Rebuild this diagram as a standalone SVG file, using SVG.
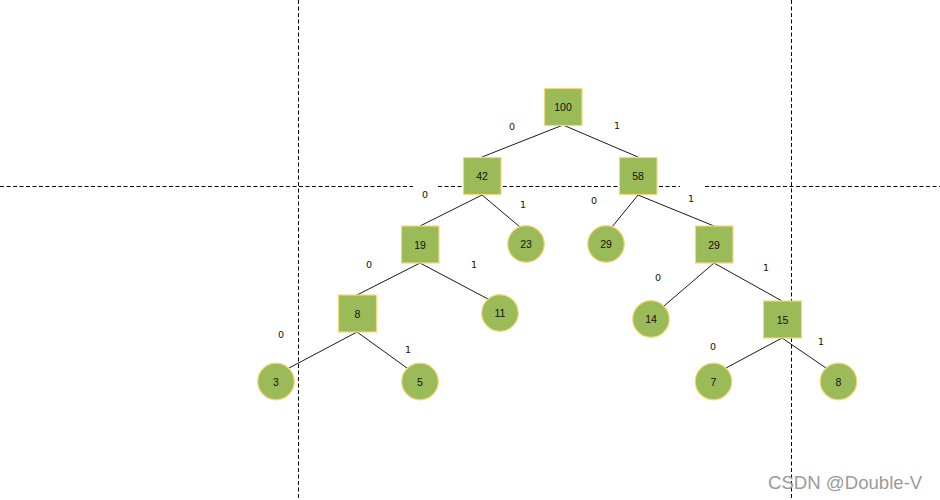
<svg xmlns="http://www.w3.org/2000/svg" width="940" height="500" viewBox="0 0 940 500">
<style>
.guide{stroke:#000;stroke-width:1;stroke-dasharray:4 2.5;fill:none}
.edge{stroke:#1a1a1a;stroke-width:1;fill:none}
.sq,.ci{fill:#9BBB59;stroke:#F5D77F;stroke-width:1.2}
.nt{font-family:"Liberation Sans",Arial,sans-serif;font-size:10.5px;fill:#111;text-anchor:middle;dominant-baseline:central}
.lb{font-family:"DejaVu Sans",Verdana,sans-serif;font-size:9.5px;fill:#111;text-anchor:middle;dominant-baseline:central}
.wm{font-family:"Liberation Sans",Arial,sans-serif;font-size:18.6px;fill:#9a9a9a}
</style>
<rect width="940" height="500" fill="#fff"/>
<g id="guides">
<line class="guide" x1="0" y1="186.5" x2="413" y2="186.5"/>
<line class="guide" x1="438" y1="186.5" x2="680" y2="186.5"/>
<line class="guide" x1="705" y1="186.5" x2="940" y2="186.5"/>
<line class="guide" x1="298.5" y1="0" x2="298.5" y2="500"/>
<line class="guide" x1="791.5" y1="0" x2="791.5" y2="500"/>
</g>
<g id="connectors">
<line class="edge" x1="563" y1="125" x2="482" y2="157"/>
<line class="edge" x1="563" y1="125" x2="638" y2="157"/>
<line class="edge" x1="482" y1="195" x2="420" y2="226"/>
<line class="edge" x1="482" y1="195" x2="520" y2="227"/>
<line class="edge" x1="638" y1="195" x2="612" y2="227"/>
<line class="edge" x1="638" y1="195" x2="714" y2="226"/>
<line class="edge" x1="420" y1="263" x2="357" y2="295"/>
<line class="edge" x1="420" y1="263" x2="488" y2="299"/>
<line class="edge" x1="714" y1="263" x2="664" y2="306"/>
<line class="edge" x1="714" y1="263" x2="782" y2="301"/>
<line class="edge" x1="357" y1="332" x2="289" y2="368"/>
<line class="edge" x1="357" y1="332" x2="407" y2="368"/>
<line class="edge" x1="782" y1="338" x2="726" y2="368"/>
<line class="edge" x1="782" y1="338" x2="826" y2="368"/>
</g>
<g id="edge-labels">
<text class="lb" x="512" y="126">0</text>
<text class="lb" x="617" y="125">1</text>
<text class="lb" x="425" y="194">0</text>
<text class="lb" x="523" y="204">1</text>
<text class="lb" x="594" y="200">0</text>
<text class="lb" x="691" y="198">1</text>
<text class="lb" x="369" y="264">0</text>
<text class="lb" x="474" y="264">1</text>
<text class="lb" x="281" y="334">0</text>
<text class="lb" x="408" y="349">1</text>
<text class="lb" x="658" y="277">0</text>
<text class="lb" x="766" y="267">1</text>
<text class="lb" x="713" y="346">0</text>
<text class="lb" x="821" y="341">1</text>
</g>
<g id="n100"><rect class="sq" x="544.5" y="88.5" width="37.5" height="37"/><text class="nt" x="563" y="107">100</text></g>
<g id="n42"><rect class="sq" x="463.5" y="157.5" width="37.5" height="37"/><text class="nt" x="482" y="176">42</text></g>
<g id="n58"><rect class="sq" x="619.5" y="157.5" width="37.5" height="37"/><text class="nt" x="638" y="176">58</text></g>
<g id="n19"><rect class="sq" x="401.5" y="226" width="37.5" height="37"/><text class="nt" x="420" y="244.5">19</text></g>
<g id="n23"><circle class="ci" cx="526" cy="244" r="18.3"/><text class="nt" x="526" y="244">23</text></g>
<g id="n29c"><circle class="ci" cx="606" cy="244" r="18.3"/><text class="nt" x="606" y="244">29</text></g>
<g id="n29"><rect class="sq" x="695.5" y="226" width="37.5" height="37"/><text class="nt" x="714" y="244.5">29</text></g>
<g id="n8"><rect class="sq" x="338.5" y="295" width="38" height="37"/><text class="nt" x="357.5" y="313.5">8</text></g>
<g id="n11"><circle class="ci" cx="500" cy="313" r="18.3"/><text class="nt" x="500" y="313">11</text></g>
<g id="n14"><circle class="ci" cx="651" cy="319" r="18.3"/><text class="nt" x="651" y="319">14</text></g>
<g id="n15"><rect class="sq" x="763.5" y="301" width="38" height="37"/><text class="nt" x="782.5" y="319.5">15</text></g>
<g id="n3"><circle class="ci" cx="276" cy="381.5" r="18.3"/><text class="nt" x="276" y="381.5">3</text></g>
<g id="n5"><circle class="ci" cx="420" cy="381.5" r="18.3"/><text class="nt" x="420" y="381.5">5</text></g>
<g id="n7"><circle class="ci" cx="713.5" cy="381.5" r="18.3"/><text class="nt" x="713.5" y="381.5">7</text></g>
<g id="n8b"><circle class="ci" cx="838.5" cy="381.5" r="18.3"/><text class="nt" x="838.5" y="381.5">8</text></g>
<text class="wm" x="768" y="489">CSDN @Double-V</text>
</svg>
